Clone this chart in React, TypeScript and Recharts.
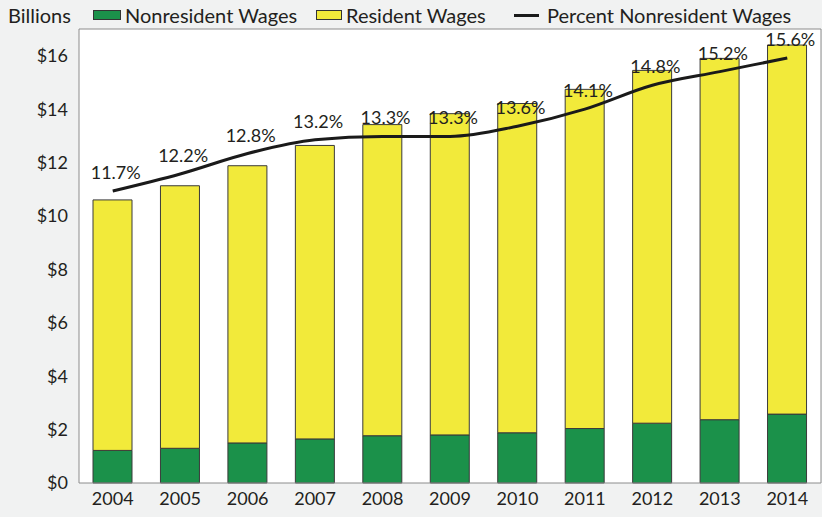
import React from 'react';
import {
  ComposedChart,
  Bar,
  Line,
  XAxis,
  YAxis,
  CartesianGrid,
  ReferenceLine,
  LabelList,
} from 'recharts';

const years = ['2004', '2005', '2006', '2007', '2008', '2009', '2010', '2011', '2012', '2013', '2014'];
const nonresidentWages = [1.22, 1.3, 1.5, 1.65, 1.77, 1.8, 1.88, 2.04, 2.24, 2.37, 2.58];
const residentWages = [9.38, 9.83, 10.38, 10.99, 11.65, 12.03, 12.33, 12.7, 13.21, 13.53, 13.82];
const percentNonresident = [11.7, 12.2, 12.8, 13.2, 13.3, 13.3, 13.6, 14.1, 14.8, 15.2, 15.6];
const dollarTicks = [0, 2, 4, 6, 8, 10, 12, 14, 16];

const GREEN = '#1b914a';
const YELLOW = '#f2ea3a';
const TEXT = '#231f20';
const FONT = 'Lato, "Open Sans", sans-serif';

const chartData = years.map((year, i) => ({
  year,
  nonresident: nonresidentWages[i],
  resident: residentWages[i],
  pct: percentNonresident[i],
}));

// label sitting just above each point of the percent line
const PctLabel = (props: any) => {
  const { x, y, value } = props;
  return (
    <text x={x + 3} y={y - 12} textAnchor="middle" fill={TEXT} fontSize={18} fontFamily={FONT}>
      {`${value}%`}
    </text>
  );
};

const legendItem = (left: number, swatch: React.ReactNode, label: string) => (
  <div style={{ position: 'absolute', left, top: 3, display: 'flex', alignItems: 'center' }}>
    {swatch}
    <span style={{ marginLeft: 4 }}>{label}</span>
  </div>
);

const App: React.FC = () => {
  return (
    <div style={{ position: 'relative', width: 822, height: 517, background: '#f1f2f2', fontFamily: FONT, color: TEXT }}>
      <style>{'body{margin:0}'}</style>
      <div style={{ position: 'absolute', inset: 0, fontSize: 20, lineHeight: '24px' }}>
        <div style={{ position: 'absolute', left: 8, top: 3 }}>Billions</div>
        {legendItem(93, <span style={{ width: 26, height: 8, background: GREEN, border: '1px solid #333' }} />, 'Nonresident Wages')}
        {legendItem(316, <span style={{ width: 24, height: 8, background: YELLOW, border: '1px solid #333' }} />, 'Resident Wages')}
        {legendItem(514, <span style={{ width: 25, height: 3, background: '#1a1a1a', marginRight: 4 }} />, 'Percent Nonresident Wages')}
      </div>
      <ComposedChart
        width={822}
        height={517}
        data={chartData}
        margin={{ top: 29, right: 0, left: 0, bottom: 0 }}
        barCategoryGap={0}
      >
        <CartesianGrid fill="#ffffff" horizontal={false} vertical={false} />
        <XAxis
          dataKey="year"
          height={34}
          tickLine={false}
          tickSize={0}
          tickMargin={9}
          axisLine={{ stroke: '#8c8c8c' }}
          tick={{ fill: TEXT, fontSize: 18, fontFamily: FONT }}
          interval={0}
        />
        <YAxis
          yAxisId="dollars"
          width={79}
          domain={[0, 17]}
          ticks={dollarTicks}
          tickFormatter={(v) => `$${v}`}
          tickLine={false}
          tickSize={0}
          tickMargin={11}
          axisLine={{ stroke: '#8c8c8c' }}
          tick={{ fill: TEXT, fontSize: 18, fontFamily: FONT }}
        />
        <YAxis
          yAxisId="pct"
          orientation="right"
          width={1}
          domain={[3.14, 16.45]}
          tick={false}
          tickLine={false}
          axisLine={{ stroke: '#8c8c8c' }}
        />
        <ReferenceLine yAxisId="dollars" y={17} stroke="#8c8c8c" />
        <Bar
          yAxisId="dollars"
          dataKey="nonresident"
          stackId="wages"
          fill={GREEN}
          stroke="#3a3a3a"
          strokeWidth={1}
          barSize={39}
          isAnimationActive={false}
        />
        <Bar
          yAxisId="dollars"
          dataKey="resident"
          stackId="wages"
          fill={YELLOW}
          stroke="#3a3a3a"
          strokeWidth={1}
          barSize={39}
          isAnimationActive={false}
        />
        <Line
          yAxisId="pct"
          dataKey="pct"
          type="monotone"
          stroke="#1a1a1a"
          strokeWidth={3}
          dot={false}
          isAnimationActive={false}
        >
          <LabelList dataKey="pct" content={PctLabel} />
        </Line>
      </ComposedChart>
    </div>
  );
};

export default App;
